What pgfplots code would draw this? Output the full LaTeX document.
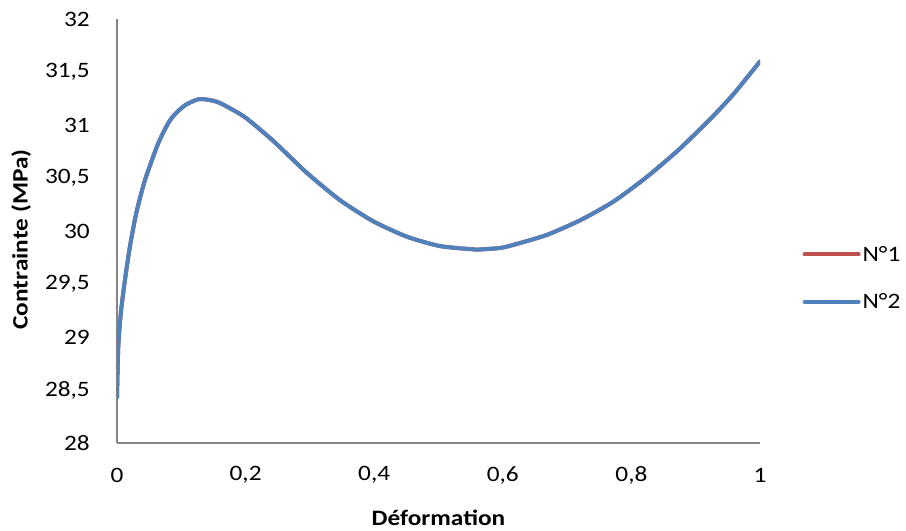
\documentclass[border=0pt]{standalone}
\usepackage{pgfplots}
\pgfplotsset{compat=1.18}
\usepackage{fontspec}
\setmainfont{Carlito}[FakeStretch=1.15]
\definecolor{axgray}{HTML}{868686}
\definecolor{xlred}{HTML}{C0504D}
\definecolor{xlblue}{HTML}{4F81BD}
\pgfplotstableread{
x y
0 28.43
0.002 28.91
0.006 29.23
0.0124 29.54
0.02 29.85
0.03 30.17
0.0435 30.48
0.062 30.795
0.072 30.93
0.082 31.04
0.093 31.12
0.108 31.195
0.129 31.245
0.155 31.22
0.181 31.14
0.202 31.06
0.243 30.85
0.295 30.55
0.347 30.29
0.399 30.09
0.451 29.946
0.502 29.858
0.554 29.827
0.565 29.826
0.596 29.84
0.616 29.868
0.668 29.962
0.72 30.10
0.772 30.277
0.824 30.51
0.876 30.78
0.928 31.09
0.96 31.30
1.0 31.60
}\dataA
\begin{document}
\begin{tikzpicture}
\useasboundingbox (-117bp,-88bp) rectangle (789bp,443bp);
\begin{axis}[
  at={(0,0)}, anchor=south west,
  scale only axis, width=643bp, height=424bp,
  xmin=0, xmax=1, ymin=28, ymax=32,
  axis x line=bottom, axis y line=left,
  axis line style={axgray, line width=1.1bp, -},
  xtick={0,0.2,...,1}, ytick={28,28.5,...,32},
  major tick length=0pt,
  /pgf/number format/assume math mode=true,
  /pgf/number format/use comma,
  /pgf/number format/fixed,
  xticklabel style={font=\fontsize{22bp}{26bp}\selectfont, anchor=center, inner sep=0pt, yshift=-32bp},
  yticklabel style={font=\fontsize{22bp}{26bp}\selectfont, anchor=east, inner sep=0pt, xshift=-27bp},
  xlabel={\textbf{Déformation}},
  ylabel={\textbf{Contrainte (MPa)}},
  xlabel style={font=\fontsize{22bp}{26bp}\selectfont, at={(axis description cs:0.5,-0.177)}, anchor=center},
  ylabel style={font=\fontsize{22bp}{26bp}\selectfont, at={(axis description cs:-0.149,0.48)}, anchor=center},
  legend style={at={(axis description cs:1.066,0.389)}, anchor=west, draw=none, fill=none,
    font=\fontsize{22bp}{26bp}\selectfont, row sep=27bp, inner sep=0pt,
    legend cell align=left},
  legend image code/.code={\draw[#1, line cap=round] (0bp,0bp) -- (54bp,0bp);},
]
\addplot[xlred, line width=4bp, line join=round, smooth, tension=0.4] table[x=x,y=y] {\dataA};
\addlegendentry{N°1}
\addplot[xlblue, line width=4bp, line join=round, line cap=round, smooth, tension=0.4] table[x=x,y=y] {\dataA};
\addlegendentry{N°2}
\end{axis}
\end{tikzpicture}
\end{document}
